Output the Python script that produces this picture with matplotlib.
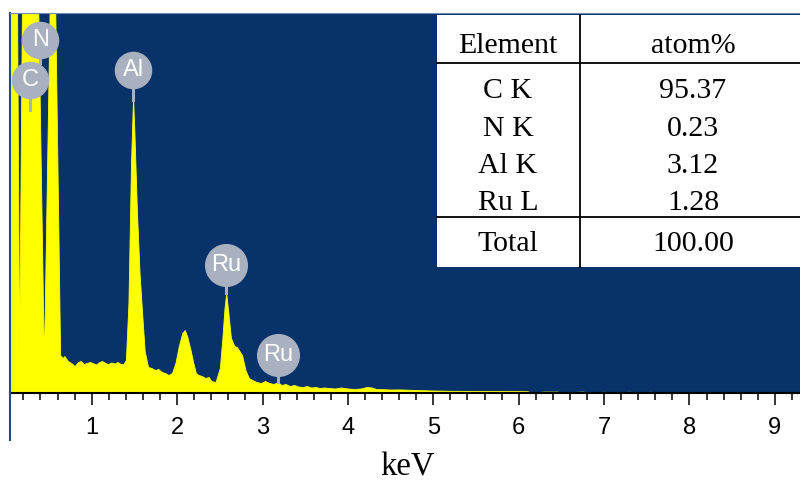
import numpy as np
import matplotlib.pyplot as plt
from matplotlib.patches import Rectangle
from matplotlib.lines import Line2D
from matplotlib.ticker import MultipleLocator

# EDS spectrum (energy in keV, counts)
kev = [0.04, 0.125, 0.15, 0.184, 0.371, 0.44, 0.51, 0.57, 0.63, 0.66,
       0.68, 0.72, 0.76, 0.80, 0.84, 0.87, 0.91, 0.94, 0.98, 1.01,
       1.05, 1.09, 1.12, 1.16, 1.19, 1.23, 1.27, 1.30, 1.34, 1.37,
       1.40, 1.43, 1.46, 1.484, 1.50, 1.53, 1.56, 1.59, 1.62, 1.66,
       1.70, 1.74, 1.78, 1.82, 1.86, 1.90, 1.94, 1.98, 2.02, 2.06,
       2.09, 2.12, 2.16, 2.19, 2.22, 2.25, 2.29, 2.33, 2.37, 2.40,
       2.45, 2.50, 2.53, 2.555, 2.575, 2.60, 2.63, 2.67, 2.70, 2.73,
       2.76, 2.80, 2.84, 2.88, 2.93, 2.98, 3.03, 3.08, 3.13, 3.18,
       3.22, 3.27, 3.32, 3.37, 3.42, 3.47, 3.52, 3.57, 3.62, 3.67,
       3.72, 3.78, 3.85, 3.92, 4.00, 4.08, 4.15, 4.22, 4.28, 4.33,
       4.40, 4.50, 4.60, 4.70, 4.80, 5.00, 5.20, 5.50, 5.80, 6.10,
       6.15, 6.30, 6.45, 6.50, 6.75, 6.80, 7.00, 7.05, 7.30, 7.35,
       7.55, 7.60, 9.30]
counts = [4000, 4000, 360, 4000, 4000, 300, 4000, 4000, 380, 350,
          370, 320, 300, 270, 310, 320, 290, 300, 310, 300,
          285, 310, 320, 300, 290, 305, 295, 310, 290, 290,
          330, 900, 2300, 2960, 2600, 1800, 1200, 800, 420, 260,
          250, 230, 240, 210, 200, 180, 200, 300, 470, 600,
          630, 560, 420, 300, 200, 180, 170, 150, 160, 120,
          110, 250, 550, 850, 1000, 800, 550, 470, 460, 420,
          380, 230, 150, 130, 110, 100, 120, 100, 90, 110,
          80, 90, 70, 80, 65, 60, 70, 55, 60, 50,
          55, 50, 45, 55, 45, 40, 45, 60, 55, 40,
          38, 35, 36, 33, 30, 25, 22, 20, 20, 18,
          5, 14, 14, 5, 14, 5, 12, 5, 12, 5,
          12, 0, 0]

# peak labels: text, energy, label height, peak top
lbl_text = ['C', 'N', 'Al', 'Ru', 'Ru']
lbl_kev = [0.278, 0.40, 1.484, 2.575, 3.18]
lbl_y = [3130, 3530, 3230, 1280, 380]
lbl_peak = [2830, 3300, 2930, 1000, 110]
lbl_size = [26, 26, 26, 30, 30]

# composition table
elements = ['C K', 'N K', 'Al K', 'Ru L']
atom_pct = ['95.37', '0.23', '3.12', '1.28']
total_pct = '100.00'

W, H = 800, 482
fig = plt.figure(figsize=(W / 100, H / 100), dpi=100)
ax = fig.add_axes([10 / W, 1 - 393 / H, 790 / W, 380 / H])
ax.set_facecolor('#07336a')

ax.fill_between(kev, counts, 0, color='#ffff00', linewidth=0.6, edgecolor='#ffff00')
ax.set_xlim(0.043, 9.294)
ax.set_ylim(0, 3800)

gray = '#a9b0bf'
sans = 'Liberation Sans'
for t, x, y, yp, s in zip(lbl_text, lbl_kev, lbl_y, lbl_peak, lbl_size):
    ax.plot([x, x], [y, yp], color=gray, lw=2.2, zorder=3)
    ax.plot(x, y, 'o', ms=s, color=gray, mec=gray, zorder=4)
    ax.text(x, y, t, color='white', fontsize=17, family=sans,
            ha='center', va='center', zorder=5)

ax.set_yticks([])
ax.set_xticks(range(1, 10))
ax.xaxis.set_minor_locator(MultipleLocator(0.2))
ax.tick_params(axis='x', which='major', length=8.5, width=1.1, color='black',
               pad=9, labelsize=17, direction='out')
ax.tick_params(axis='x', which='minor', length=5, width=1.1, color='black',
               direction='out')
for lab in ax.get_xticklabels():
    lab.set_family(sans)
ax.spines['right'].set_visible(False)
ax.spines['top'].set_color('#6f8bb5')
ax.spines['top'].set_linewidth(0.8)
ax.spines['left'].set_color('#1d4a94')
ax.spines['left'].set_linewidth(1.5)
ax.spines['bottom'].set_color('black')
ax.spines['bottom'].set_linewidth(1.5)

# left line running below the axis
fig.add_artist(Line2D([10 / W, 10 / W], [1 - 393 / H, 1 - 440 / H],
                      color='#1d4a94', lw=1.5, transform=fig.transFigure))

fig.text(408 / W, 1 - 476 / H, 'keV', family='Liberation Serif', size=23.5,
         ha='center', va='baseline')


def fx(x):
    return x / W


def fy(y):
    return 1 - y / H


# table
fig.add_artist(Rectangle((fx(437), fy(267)), fx(800) - fx(437), fy(15) - fy(267),
                         facecolor='white', edgecolor='none',
                         transform=fig.transFigure, zorder=6))
for (x0, y0, x1, y1) in [(580, 15, 580, 267), (437, 63, 800, 63), (437, 217, 800, 217)]:
    fig.add_artist(Line2D([fx(x0), fx(x1)], [fy(y0), fy(y1)], color='black',
                          lw=1.3, transform=fig.transFigure, zorder=7))

serif = dict(family='Liberation Serif', size=21.5, ha='center', va='baseline', zorder=8)
fig.text(fx(508), fy(53), 'Element', **serif)
fig.text(fx(693), fy(53), 'atom%', **serif)
row_base = [98, 136, 173, 210]
for el, pct, yb in zip(elements, atom_pct, row_base):
    fig.text(fx(508), fy(yb), el, **serif)
    fig.text(fx(693), fy(yb), pct, **serif)
fig.text(fx(508), fy(251), 'Total', **serif)
fig.text(fx(693), fy(251), total_pct, **serif)

fig.savefig('out.png', dpi=100)
